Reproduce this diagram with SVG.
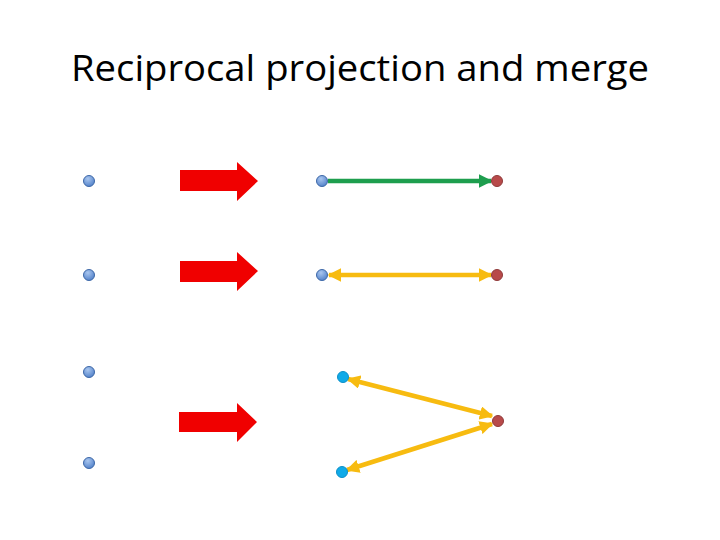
<svg xmlns="http://www.w3.org/2000/svg" width="720" height="540" viewBox="0 0 720 540">
<defs>
<radialGradient id="gBlue" cx="0.4" cy="0.3" r="0.75">
<stop offset="0" stop-color="#a9c6ef"/>
<stop offset="1" stop-color="#4f7fc8"/>
</radialGradient>
<marker id="mGreen" viewBox="0 0 10 10" refX="9" refY="5" markerWidth="3" markerHeight="3" orient="auto-start-reverse" markerUnits="strokeWidth">
<path d="M0,0 L10,5 L0,10 Z" fill="#1e9e4e"/>
</marker>
<marker id="mYellow" viewBox="0 0 10 10" refX="9" refY="5" markerWidth="3" markerHeight="3" orient="auto-start-reverse" markerUnits="strokeWidth">
<path d="M0,0 L10,5 L0,10 Z" fill="#f7bb10"/>
</marker>
</defs>
<style>
.title{font-family:"Open Sans","Liberation Sans",sans-serif;font-size:37px;fill:#000}
.bdot{fill:url(#gBlue);stroke:#3d68a8;stroke-width:1}
.cdot{fill:#10aae8;stroke:#0c90c8;stroke-width:1}
.rdot{fill:#b84a4a;stroke:#8f3a3a;stroke-width:1}
.big{fill:#f00000}
.green{stroke:#1e9e4e;stroke-width:4.5;fill:none}
.yellow{stroke:#f7bb10;stroke-width:4.5;fill:none}
</style>
<text class="title" x="360" y="81" text-anchor="middle" textLength="578" lengthAdjust="spacingAndGlyphs">Reciprocal projection and merge</text>
<g id="left-dots">
<g id="L1"><circle class="bdot" cx="89" cy="181" r="5.5"/></g>
<g id="L2"><circle class="bdot" cx="89" cy="275" r="5.5"/></g>
<g id="L3"><circle class="bdot" cx="89" cy="372" r="5.5"/></g>
<g id="L4"><circle class="bdot" cx="89" cy="463" r="5.5"/></g>
</g>
<g id="red-arrows">
<g id="A1"><polygon class="big" points="180,170 237,170 237,162 258,181 237,201 237,191 180,191"/></g>
<g id="A2"><polygon class="big" points="180,261 237,261 237,252 258,271 237,291 237,282 180,282"/></g>
<g id="A3"><polygon class="big" points="179,412 237,412 237,403 257,422 237,442 237,432 179,432"/></g>
</g>
<g id="connectors">
<line class="green" x1="328" y1="181" x2="491" y2="181" marker-end="url(#mGreen)"/>
<line class="yellow" x1="329" y1="275" x2="491" y2="275" marker-start="url(#mYellow)" marker-end="url(#mYellow)"/>
<line class="yellow" x1="348" y1="379" x2="492" y2="416" marker-start="url(#mYellow)" marker-end="url(#mYellow)"/>
<line class="yellow" x1="492" y1="424" x2="347" y2="470" marker-start="url(#mYellow)" marker-end="url(#mYellow)"/>
</g>
<g id="R1"><circle class="bdot" cx="322" cy="181" r="5.5"/></g>
<g id="R1b"><circle class="rdot" cx="497" cy="181" r="5.5"/></g>
<g id="R2"><circle class="bdot" cx="322" cy="275" r="5.5"/></g>
<g id="R2b"><circle class="rdot" cx="497" cy="275" r="5.5"/></g>
<g id="R3a"><circle class="cdot" cx="343" cy="377" r="5.5"/></g>
<g id="R3b"><circle class="cdot" cx="342" cy="472" r="5.5"/></g>
<g id="R3c"><circle class="rdot" cx="498" cy="421" r="5.5"/></g>
</svg>
